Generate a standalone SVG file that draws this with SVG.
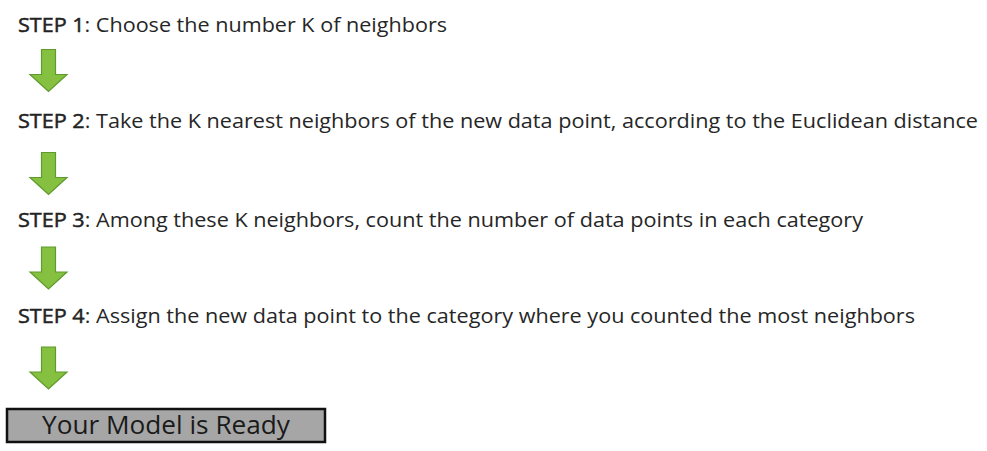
<svg xmlns="http://www.w3.org/2000/svg" width="987" height="451" viewBox="0 0 987 451">
<defs>
<style>
.step{font-family:"Open Sans","Liberation Sans",sans-serif;font-size:19.5px;fill:#262626}
.lbl{stroke:#1a1a1a;stroke-width:0.45}
.arrow{fill:#86c040;stroke:#5f9a2c;stroke-width:1.2;stroke-linejoin:miter}
.box{fill:#a6a6a6;stroke:#111;stroke-width:2.5}
.boxtxt{font-family:"Open Sans","Liberation Sans",sans-serif;font-size:25px;fill:#1a1a1a}
</style>
<path id="arr" d="M-7,0 H7 V25 H18.5 L0,42 L-18.5,25 H-7 Z"/>
</defs>
<rect width="987" height="451" fill="#ffffff"/>
<g id="step1"><text class="step" x="18" y="32" textLength="429" lengthAdjust="spacingAndGlyphs"><tspan class="lbl">STEP 1</tspan>: Choose the number K of neighbors</text></g>
<g id="step2"><text class="step" x="18" y="128" textLength="960" lengthAdjust="spacingAndGlyphs"><tspan class="lbl">STEP 2</tspan>: Take the K nearest neighbors of the new data point, according to the Euclidean distance</text></g>
<g id="step3"><text class="step" x="18" y="227" textLength="845" lengthAdjust="spacingAndGlyphs"><tspan class="lbl">STEP 3</tspan>: Among these K neighbors, count the number of data points in each category</text></g>
<g id="step4"><text class="step" x="18" y="323" textLength="897" lengthAdjust="spacingAndGlyphs"><tspan class="lbl">STEP 4</tspan>: Assign the new data point to the category where you counted the most neighbors</text></g>
<g id="result"><rect class="box" x="7" y="409" width="318" height="33"/><text class="boxtxt" x="166" y="434" text-anchor="middle" textLength="248" lengthAdjust="spacingAndGlyphs">Your Model is Ready</text></g>
<g id="connectors">
<use href="#arr" class="arrow" x="48.5" y="49.5"/>
<use href="#arr" class="arrow" x="48.5" y="152.5"/>
<use href="#arr" class="arrow" x="48.5" y="247"/>
<use href="#arr" class="arrow" x="48.5" y="347"/>
</g>
</svg>
